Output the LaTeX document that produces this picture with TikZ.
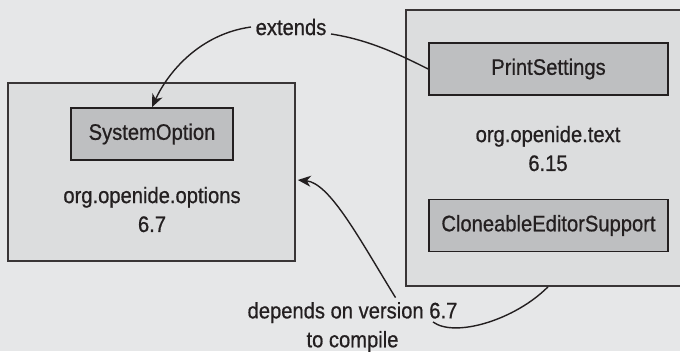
\documentclass[tikz,border=0pt]{standalone}
\usepackage{fontspec}
\setmainfont{Liberation Sans}[FakeStretch=0.9,FakeBold=0.7]
\usetikzlibrary{arrows.meta}
\usepackage{xcolor}
\definecolor{bggray}{HTML}{E6E7E8}
\definecolor{pkgfill}{HTML}{DCDDDE}
\definecolor{classfill}{HTML}{BEBFC1}
\definecolor{inkline}{HTML}{231F20}

\begin{document}
\begin{tikzpicture}[x=1bp,y=-1bp,>={Stealth[length=13bp,width=11bp,inset=4bp]},
  font=\fontsize{22.5}{29}\selectfont,text=inkline,
  pkgbox/.style={draw=inkline!90,fill=pkgfill,line width=1.6bp,inner sep=0pt},
  classbox/.style={draw=inkline,fill=classfill,line width=1.6bp,inner sep=0pt,minimum height=52bp},
  pkglabel/.style={align=center},
  link/.style={inkline,line width=1.4bp}]
\fill[bggray] (0,0) rectangle (680,351);
\useasboundingbox (0,0) rectangle (680,351);
% the two modules
\node[pkgbox,minimum width=287bp,minimum height=178bp] (optpkg) at (151.5,172) {};
\node[pkgbox,minimum width=284bp,minimum height=276bp] (txtpkg) at (548,148) {};
% classes inside them
\node[classbox,minimum width=162bp] (sysopt) at (152,134) {SystemOption};
\node[classbox,minimum width=239bp] (printset) at (548.5,69) {PrintSettings};
\node[classbox,minimum width=239bp] (cloneed) at (548.5,225.5) {CloneableEditorSupport};
\node[pkglabel] (optlbl) at (152,209.5) {org.openide.options\\6.7};
\node[pkglabel] (txtlbl) at (548,148.5) {org.openide.text\\6.15};
% labels and links
\node[inner xsep=4.5bp] (ext) at (291,27) {extends};
\node[pkglabel] (dep) at (352.5,327) {depends on version 6.7\\to compile};
\coordinate (depcurl) at (433,322);
\draw[link,->] (ext.west) .. controls (200,34) and (168,72) .. (sysopt.north);
\draw[link] ([yshift=-7bp]ext.east) .. controls (370,40) and (400,55) .. (printset.west);
\draw[link,->] ([xshift=43bp,yshift=1bp]dep.north) .. controls (360,240) and (330,183) .. ([shift={(2,8)}]optpkg.east);
\draw[link] (depcurl) .. controls (455,338) and (515,320) .. (txtpkg.south);
\end{tikzpicture}
\end{document}
